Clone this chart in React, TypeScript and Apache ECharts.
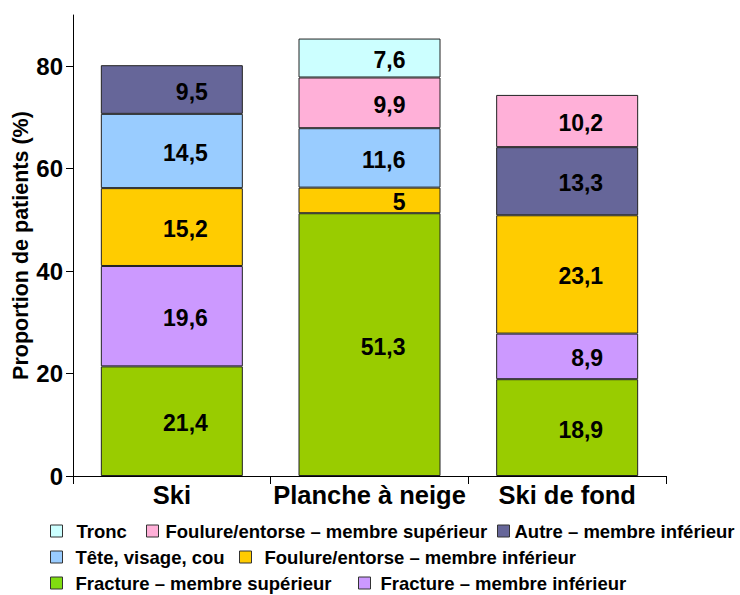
import React, { useEffect, useRef } from 'react';
import * as echarts from 'echarts';

const categories = ['Ski', 'Planche à neige', 'Ski de fond'];
const fractureSup = [21.4, 51.3, 18.9];
const fractureInf = [19.6, null, 8.9];
const foulureInf = [15.2, 5, 23.1];
const teteVisageCou = [14.5, 11.6, null];
const autreInf = [9.5, null, 13.3];
const foulureSup = [null, 9.9, 10.2];
const tronc = [null, 7.6, null];
const yTicks = [0, 20, 40, 60, 80];

const FONT = 'Liberation Sans, Arial, sans-serif';

const seriesDefs = [
  { name: 'Fracture – membre supérieur', data: fractureSup, color: '#99CC00', legendColor: '#80DD10' },
  { name: 'Fracture – membre inférieur', data: fractureInf, color: '#CC99FF' },
  { name: 'Foulure/entorse – membre inférieur', data: foulureInf, color: '#FFCC00' },
  { name: 'Tête, visage, cou', data: teteVisageCou, color: '#99CCFF' },
  { name: 'Autre – membre inférieur', data: autreInf, color: '#666699' },
  { name: 'Foulure/entorse – membre supérieur', data: foulureSup, color: '#FFB0D8' },
  { name: 'Tronc', data: tronc, color: '#CCFFFF' },
];

// legend layout: [series name, left, centerY, text padding]
const legendLayout: [string, number, number, number][] = [
  ['Tronc', 50, 531, 9],
  ['Foulure/entorse – membre supérieur', 146, 531, 2],
  ['Autre – membre inférieur', 497, 531, 0],
  ['Tête, visage, cou', 50, 557, 8],
  ['Foulure/entorse – membre inférieur', 239, 557, 8],
  ['Fracture – membre supérieur', 50, 583, 8],
  ['Fracture – membre inférieur', 358, 583, 5],
];

export default function App() {
  const ref = useRef<HTMLDivElement>(null);
  useEffect(() => {
    if (!ref.current) return;
    const chart = echarts.init(ref.current, null, { renderer: 'svg' });
    const legends = legendLayout.map(([name, left, cy, pad]) => {
      const def = seriesDefs.find((s) => s.name === name)!;
      return {
        show: true,
        left,
        top: cy - 10,
        padding: 0,
        itemWidth: 12,
        itemHeight: 12,
        icon: 'rect',
        selectedMode: false,
        itemStyle: { borderColor: '#333', borderWidth: 1 },
        textStyle: {
          fontFamily: FONT,
          fontSize: 18.5,
          fontWeight: 'bold',
          color: '#000',
          lineHeight: 20,
          padding: [0, 0, 0, pad],
        },
        data: [
          {
            name,
            itemStyle: { color: def.legendColor || def.color, borderColor: '#333', borderWidth: 1 },
          },
        ],
      };
    });
    chart.setOption({
      animation: false,
      backgroundColor: '#fff',
      grid: { left: 73, right: 74, top: 15, bottom: 119, containLabel: false, outerBoundsMode: 'none' },
      legend: legends,
      xAxis: {
        type: 'category',
        data: categories,
        axisLine: { lineStyle: { color: '#000', width: 1 } },
        axisTick: { show: true, length: 8, alignWithLabel: false, lineStyle: { color: '#000' } },
        axisLabel: {
          interval: 0,
          hideOverlap: false,
          margin: 6,
          fontFamily: FONT,
          fontSize: 25.5,
          fontWeight: 'bold',
          color: '#000',
        },
      },
      yAxis: {
        type: 'value',
        min: 0,
        max: 90,
        name: 'Proportion de patients (%)',
        nameLocation: 'middle',
        nameRotate: 90,
        nameGap: 41,
        nameMoveOverlap: false,
        nameTextStyle: { fontFamily: FONT, fontSize: 21.5, fontWeight: 'bold', color: '#000' },
        splitLine: { show: false },
        axisLine: { show: true, lineStyle: { color: '#000', width: 1 } },
        axisTick: { show: true, length: 7, customValues: yTicks, lineStyle: { color: '#000' } },
        axisLabel: {
          customValues: yTicks,
          margin: 10,
          fontFamily: FONT,
          fontSize: 24,
          fontWeight: 'bold',
          color: '#000',
        },
      },
      series: seriesDefs.map((s) => ({
        name: s.name,
        type: 'bar',
        stack: 'total',
        barWidth: 142,
        data: s.data,
        itemStyle: { color: s.color, borderColor: '#222', borderWidth: 1 },
        label: {
          show: true,
          position: 'inside',
          align: 'right',
          offset: [36, 2],
          fontFamily: FONT,
          fontSize: 23,
          fontWeight: 'bold',
          color: '#000',
          formatter: (p: any) => (p.value == null ? '' : String(p.value).replace('.', ',')),
        },
      })),
    });
    return () => chart.dispose();
  }, []);
  return <div ref={ref} style={{ position: 'absolute', left: 0, top: 0, width: 740, height: 595 }} />;
}
